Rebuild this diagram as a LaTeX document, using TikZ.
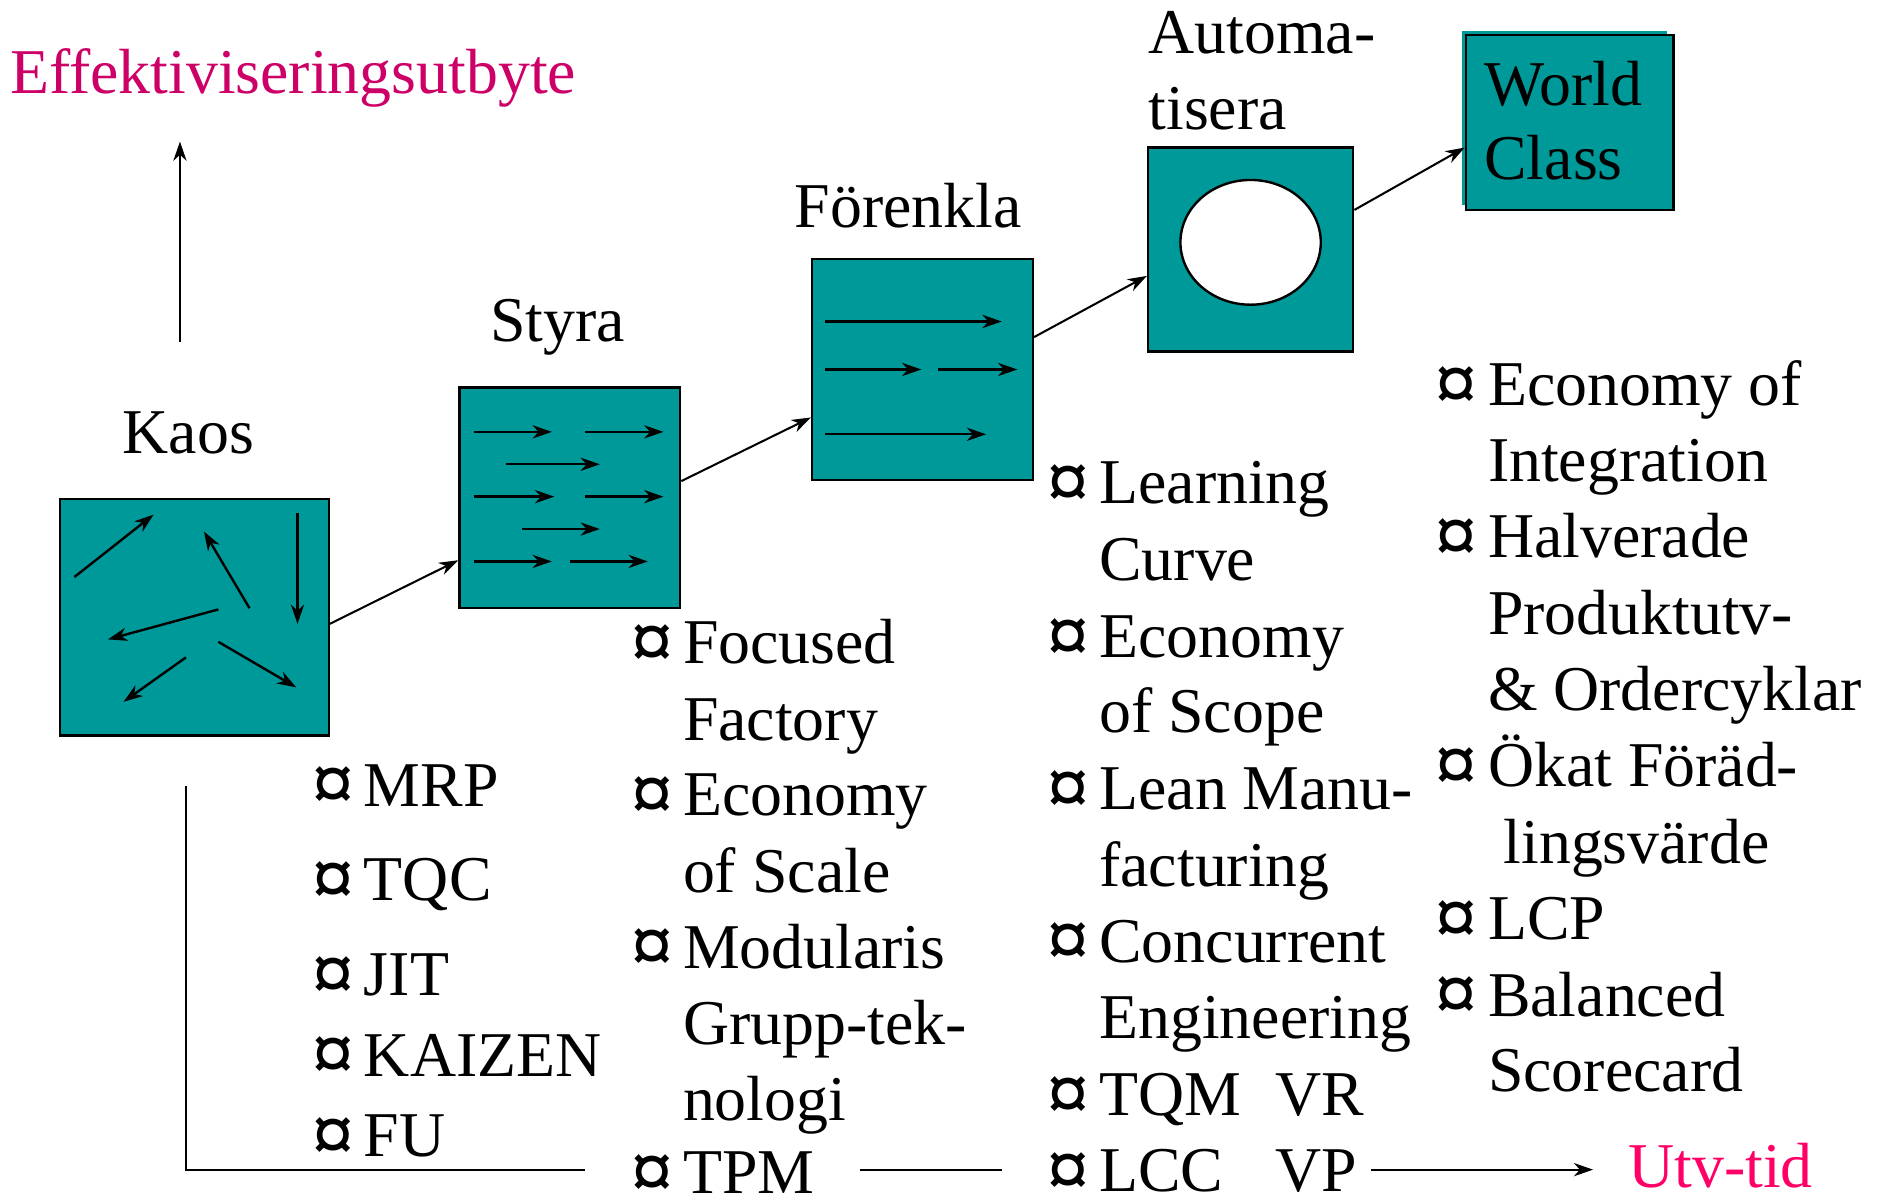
\documentclass[tikz,border=0pt]{standalone}
\usepackage{fontspec}
\setmainfont{Liberation Serif}
\usetikzlibrary{arrows.meta,calc,shapes.geometric}
\definecolor{tealbox}{HTML}{009999}
\definecolor{headpink}{HTML}{CC0066}
\definecolor{axispink}{HTML}{FF0066}
\newcommand\curr{\scalebox{1.3}{\bfseries ¤}}
\tikzset{
  x=0.5pt, y=-0.5pt,
  txt/.style={font=\fontsize{26.6}{31.7}\selectfont, inner sep=0pt, anchor=base west},
  ctxt/.style={txt, anchor=base},
  bul/.style={txt, anchor=base west, yshift=-2.4pt},
  tbox/.style={draw=black, line width=1pt, fill=tealbox, inner sep=0pt},
  tip/.style={-{Stealth[length=8pt,width=5.5pt,inset=2.5pt]}},
  flow/.style={tip, line width=1pt},
  link/.style={tip, line width=0.85pt},
  axis/.style={line width=0.9pt},
}
\begin{document}
\begin{tikzpicture}
\useasboundingbox (0,0) rectangle (1568,1002);

% headline and upward axis
\node[txt, text=headpink] (yield) at (8,78) {Effektiviseringsutbyte};
\coordinate (upfoot) at (150,285);
\coordinate (uptip) at (150,118);
\draw[link] (upfoot) -- (uptip);

% stage titles
\node[ctxt] (tkaos) at (157,378) {Kaos};
\node[ctxt] (tstyra) at (465,285) {Styra};
\node[ctxt] (tforenkla) at (757,190) {Förenkla};
\node[txt] (tauto1) at (957,45) {Automa-};
\node[txt] (tauto2) at (957,108) {tisera};

% stage boxes
\node[tbox, minimum width=112pt, minimum height=98.5pt] (kaos) at (162,514.5) {};
\node[tbox, minimum width=92pt, minimum height=92pt] (styra) at (475,415) {};
\node[tbox, minimum width=92pt, minimum height=92pt] (forenkla) at (769,308) {};
\node[tbox, minimum width=85.5pt, minimum height=85pt] (auto) at (1042.5,208) {};
\node[draw=black, line width=1pt, fill=white, ellipse, minimum width=58.5pt, minimum height=52pt, inner sep=0pt] (hole) at (1042.5,202) {};
\fill[tealbox] (1219,26) rectangle (1390,171);
\node[tbox, minimum width=86.5pt, minimum height=73pt] (world) at (1308.5,102) {};
\node[txt] (tworld) at (1237,88) {World};
\node[txt] (tclass) at (1237,150) {Class};

% chaos arrows
\draw[flow] (62,481) -- (128,429);
\draw[flow] (208,507) -- (170,443);
\draw[flow] (248,428) -- (248,520);
\draw[flow] (182,508) -- (90,533);
\draw[flow] (155,548) -- (103,585);
\draw[flow] (182,535) -- (247,573);

% controlled flow arrows
\draw[flow] (395,360) -- (460,360);
\draw[flow] (488,360) -- (553,360);
\draw[flow] (422,387) -- (500,387);
\draw[flow] (395,414) -- (462,414);
\draw[flow] (488,414) -- (553,414);
\draw[flow] (435,441) -- (500,441);
\draw[flow] (395,468) -- (460,468);
\draw[flow] (475,468) -- (540,468);

% simplified flow arrows
\draw[flow] (688,268) -- (835,268);
\draw[flow] (688,308) -- (768,308);
\draw[flow] (782,308) -- (848,308);
\draw[flow] (688,362) -- (822,362);

% stage connectors
\draw[link] ([yshift=-2.75pt]kaos.east) -- ([yshift=-26pt]styra.west);
\draw[link] ([yshift=7pt]styra.east) -- ([yshift=-20pt]forenkla.west);
\draw[link] ([yshift=13.5pt]forenkla.east) -- ([yshift=-11pt]auto.west);
\draw[link] ([yshift=16.5pt]auto.east) -- ([yshift=-10.5pt]world.west);

% methods under Kaos
\node[bul] (b11) at (260,672) {\curr}; \node[txt] (m11) at (303,672) {MRP};
\node[bul] (b12) at (260,751) {\curr}; \node[txt] (m12) at (303,751) {TQC};
\node[bul] (b13) at (260,830) {\curr}; \node[txt] (m13) at (303,830) {JIT};
\node[bul] (b14) at (260,897) {\curr}; \node[txt] (m14) at (303,897) {KAIZEN};
\node[bul] (b15) at (260,964) {\curr}; \node[txt] (m15) at (303,964) {FU};

% methods under Styra
\node[bul] (b21) at (526,553) {\curr}; \node[txt] (m21) at (569,553) {Focused};
\node[txt] (m21b) at (569,617) {Factory};
\node[bul] (b22) at (526,680) {\curr}; \node[txt] (m22) at (569,680) {Economy};
\node[txt] (m22b) at (569,744) {of Scale};
\node[bul] (b23) at (526,807) {\curr}; \node[txt] (m23) at (569,807) {Modularis};
\node[txt] (m23b) at (569,871) {Grupp-tek-};
\node[txt] (m23c) at (569,934) {nologi};
\node[bul] (b24) at (526,995) {\curr}; \node[txt] (m24) at (569,995) {TPM};

% methods under Förenkla
\node[bul] (b31) at (873,420) {\curr}; \node[txt] (m31) at (916,420) {Learning};
\node[txt] (m31b) at (916,484) {Curve};
\node[bul] (b32) at (873,548) {\curr}; \node[txt] (m32) at (916,548) {Economy};
\node[txt] (m32b) at (916,611) {of Scope};
\node[bul] (b33) at (873,675) {\curr}; \node[txt] (m33) at (916,675) {Lean Manu-};
\node[txt] (m33b) at (916,739) {facturing};
\node[bul] (b34) at (873,802) {\curr}; \node[txt] (m34) at (916,802) {Concurrent};
\node[txt] (m34b) at (916,866) {Engineering};
\node[bul] (b35) at (873,930) {\curr}; \node[txt] (m35) at (916,930) {TQM};
\node[txt] (m35b) at (1063,930) {VR};
\node[bul] (b36) at (873,993) {\curr}; \node[txt] (m36) at (916,993) {LCC};
\node[txt] (m36b) at (1063,993) {VP};

% methods under Automatisera
\node[bul] (b41) at (1196,338) {\curr}; \node[txt] (m41) at (1240,338) {Economy of};
\node[txt] (m41b) at (1240,401) {Integration};
\node[bul] (b42) at (1196,465) {\curr}; \node[txt] (m42) at (1240,465) {Halverade};
\node[txt] (m42b) at (1240,529) {Produktutv-};
\node[txt] (m42c) at (1240,592) {\& Ordercyklar};
\node[bul] (b43) at (1196,656) {\curr}; \node[txt] (m43) at (1240,656) {Ökat Föräd-};
\node[txt] (m43b) at (1253,720) {lingsvärde};
\node[bul] (b44) at (1196,783) {\curr}; \node[txt] (m44) at (1240,783) {LCP};
\node[bul] (b45) at (1196,847) {\curr}; \node[txt] (m45) at (1240,847) {Balanced};
\node[txt] (m45b) at (1240,910) {Scorecard};

% time axis
\node[txt, text=axispink] (utv) at (1357,990) {Utv-tid};
\coordinate (ytop) at (155,655);
\coordinate (corner) at (155,975);
\coordinate (seg1) at (488,975);
\coordinate (seg2a) at (717,975);
\coordinate (seg2b) at (835,975);
\coordinate (seg3) at (1143,975);
\coordinate (axtip) at (1328,975);
\draw[axis] (ytop) -- (corner) -- (seg1);
\draw[axis] (seg2a) -- (seg2b);
\draw[axis, tip] (seg3) -- (axtip);
\end{tikzpicture}
\end{document}
